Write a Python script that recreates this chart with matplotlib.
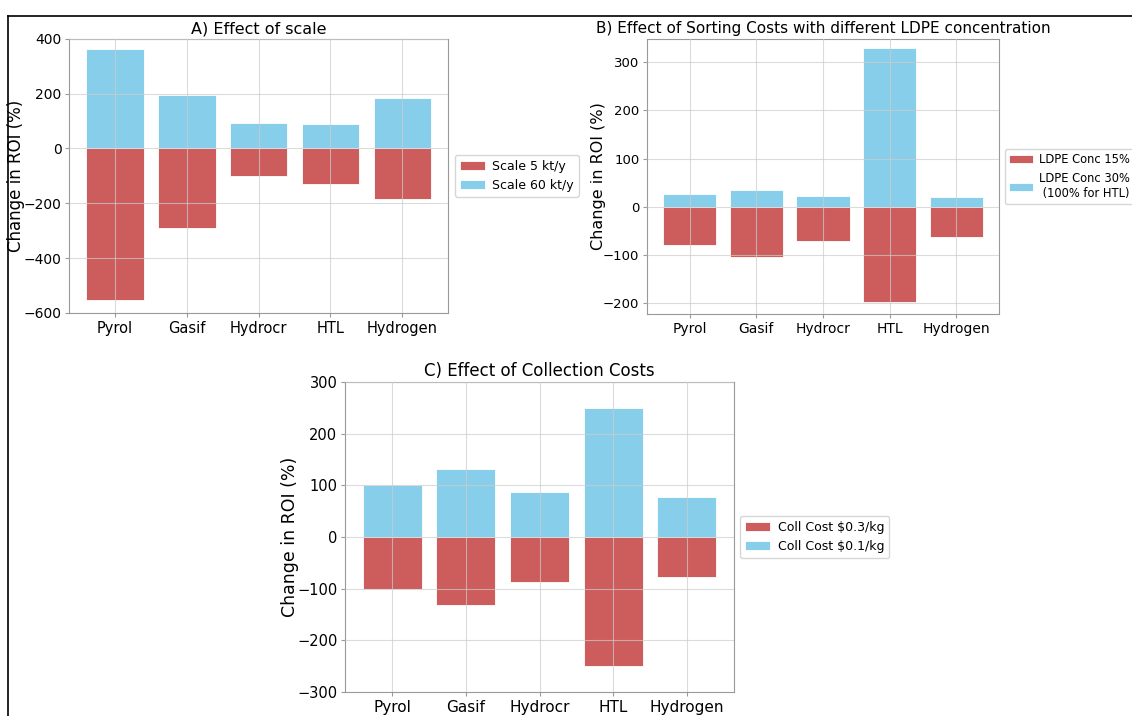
import numpy as np
import matplotlib
matplotlib.use('Agg')
import matplotlib.pyplot as plt
from matplotlib.lines import Line2D

# process categories shared by all panels
techs = ['Pyrol', 'Gasif', 'Hydrocr', 'HTL', 'Hydrogen']

# A) effect of scale
scale_low = [-553, -292, -100, -129, -183]
scale_high = [363, 193, 92, 88, 185]

# B) effect of sorting costs
ldpe_15 = [-78, -104, -70, -197, -62]
ldpe_30 = [26, 34, 22, 330, 20]

# C) effect of collection costs
coll_high = [-100, -131, -88, -250, -78]
coll_low = [100, 131, 88, 250, 78]

red = '#cd5c5c'
blue = '#87ceeb'

W = 1132
fig = plt.figure(figsize=(11.32, 7.16), dpi=100)


def panel(rect, neg, pos, labels, title, ylim, yticks, fs=10.5, tfs=11.5,
          lfs=12, lab_off=44.0, legfs=9):
    ax = fig.add_axes(rect)
    x = np.arange(len(techs))
    ax.bar(x, neg, width=0.8, color=red, edgecolor='white', linewidth=0.6,
           label=labels[0], zorder=1)
    ax.bar(x, pos, width=0.8, color=blue, edgecolor='white', linewidth=0.6,
           label=labels[1], zorder=1)
    ax.set_xticks(x)
    ax.set_xticklabels(techs, fontsize=fs)
    ax.tick_params(axis='y', labelsize=fs - 0.5)
    ax.tick_params(axis='both', color='#999999', length=3, pad=2.5)
    ax.set_ylim(*ylim)
    ax.set_yticks(yticks)
    ax.grid(True, color='#cccccc', linewidth=0.8, alpha=0.7, zorder=3)
    ax.set_axisbelow(False)
    for s in ax.spines.values():
        s.set_color('#999999')
    ax.set_ylabel('Change in ROI (%)', fontsize=lfs)
    ax.yaxis.set_label_coords(-lab_off / (rect[2] * W), 0.5)
    ax.set_title(title, fontsize=tfs, pad=4)
    ax.legend(loc='center left', bbox_to_anchor=(1.0, 0.5), fontsize=legfs,
              handlelength=2.0, handletextpad=0.6, borderpad=0.4)
    return ax


panel([0.061, 0.563, 0.335, 0.383], scale_low, scale_high,
      ['Scale 5 kt/y', 'Scale 60 kt/y'], 'A) Effect of scale',
      (-600, 400), [-600, -400, -200, 0, 200, 400])

panel([0.5716, 0.5615, 0.311, 0.384], ldpe_15, ldpe_30,
      ['LDPE Conc 15%', 'LDPE Conc 30%\n (100% for HTL)'],
      'B) Effect of Sorting Costs with different LDPE concentration',
      (-222, 348), [-200, -100, 0, 100, 200, 300], fs=10, tfs=11, lfs=11.5,
      lab_off=41.0, legfs=8.3)

panel([0.3048, 0.0335, 0.3436, 0.433], coll_high, coll_low,
      ['Coll Cost $0.3/kg', 'Coll Cost $0.1/kg'],
      'C) Effect of Collection Costs',
      (-300, 300), [-300, -200, -100, 0, 100, 200, 300], fs=11, tfs=12,
      lfs=12.5, lab_off=46.0)

# frame lines along top and left edge
fig.add_artist(Line2D([0.007, 1.0], [0.978, 0.978], color='black', linewidth=1.2))
fig.add_artist(Line2D([0.007, 0.007], [0.0, 0.978], color='black', linewidth=1.2))

fig.savefig('out.png', dpi=100)
